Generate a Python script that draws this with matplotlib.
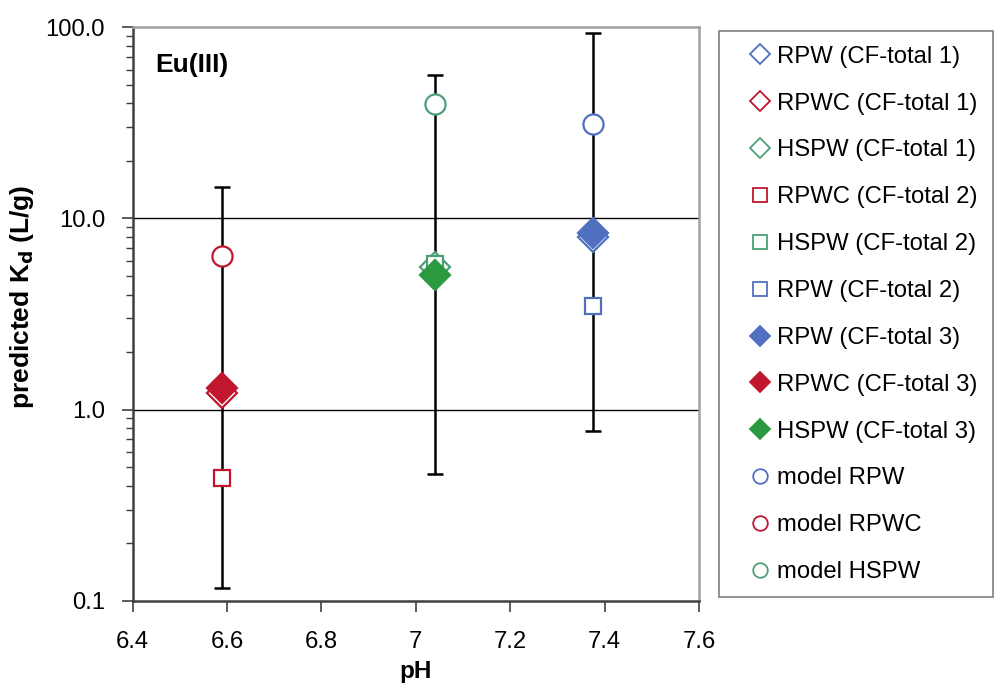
import numpy as np
import matplotlib
matplotlib.use("Agg")
import matplotlib.pyplot as plt
from matplotlib.lines import Line2D
from matplotlib.ticker import FixedLocator, LogLocator, NullFormatter

plt.rcParams['font.family'] = ['Liberation Sans', 'DejaVu Sans']

# ------------------------------------------------------------------
# Data
# ------------------------------------------------------------------
ph = [6.59, 7.04, 7.375]

# CF-total 1 (open diamonds)
rpw_cf1 = 7.96
rpwc_cf1 = 1.22
hspw_cf1 = 5.57

# CF-total 2 (open squares)
rpwc_cf2 = 0.44
hspw_cf2 = 5.77
rpw_cf2 = 3.48

# CF-total 3 (filled diamonds)
rpw_cf3 = 8.36
rpwc_cf3 = 1.30
hspw_cf3 = 5.06

# model values (open circles)
model_rpw = 31.2
model_rpwc = 6.36
model_hspw = 39.7

# error bar ranges, ordered as ph: RPWC, HSPW, RPW
err_low = [0.116, 0.46, 0.77]
err_high = [14.6, 56.2, 93.0]

blue = '#4F6FBF'
red = '#C0172F'
green_open = '#4E9F78'
green_fill = '#2A9940'

fig = plt.figure(figsize=(9.94, 6.84), dpi=100)
ax = fig.add_axes([0.1335, 0.1218, 0.5697, 0.8382])

# error bars
center = np.sqrt(np.array(err_low) * np.array(err_high))
yerr = [center - np.array(err_low), np.array(err_high) - center]
ax.errorbar(ph, center, yerr=yerr, fmt='none', ecolor='black',
            elinewidth=1.8, capsize=5.5, capthick=1.8, zorder=3)

d_size = 15
s_size = 11
c_size = 14.5
mew = 1.6

series = [
    # label, x, y, marker, color, filled, size
    ("RPW (CF-total 1)", ph[2], rpw_cf1, 'D', blue, False, d_size),
    ("RPWC (CF-total 1)", ph[0], rpwc_cf1, 'D', red, False, d_size),
    ("HSPW (CF-total 1)", ph[1], hspw_cf1, 'D', green_open, False, d_size),
    ("RPWC (CF-total 2)", ph[0], rpwc_cf2, 's', red, False, s_size),
    ("HSPW (CF-total 2)", ph[1], hspw_cf2, 's', green_open, False, s_size),
    ("RPW (CF-total 2)", ph[2], rpw_cf2, 's', blue, False, s_size),
    ("RPW (CF-total 3)", ph[2], rpw_cf3, 'D', blue, True, d_size),
    ("RPWC (CF-total 3)", ph[0], rpwc_cf3, 'D', red, True, d_size),
    ("HSPW (CF-total 3)", ph[1], hspw_cf3, 'D', green_fill, True, d_size),
    ("model RPW", ph[2], model_rpw, 'o', blue, False, c_size),
    ("model RPWC", ph[0], model_rpwc, 'o', red, False, c_size),
    ("model HSPW", ph[1], model_hspw, 'o', green_open, False, c_size),
]

handles = []
for i, (label, x, y, m, col, filled, ms) in enumerate(series):
    face = col if filled else 'white'
    ax.plot([x], [y], linestyle='none', marker=m, markersize=ms,
            markerfacecolor=face, markeredgecolor=col, markeredgewidth=mew,
            zorder=4 + i)
    handles.append(Line2D([], [], linestyle='none', marker=m, markersize=10.5,
                          markerfacecolor=face, markeredgecolor=col,
                          markeredgewidth=1.3, label=label))

ax.set_yscale('log')
ax.set_ylim(0.1, 100)
ax.set_xlim(6.4, 7.6)
ax.set_xticks([6.4, 6.6, 6.8, 7.0, 7.2, 7.4, 7.6])
ax.set_xticklabels(['6.4', '6.6', '6.8', '7', '7.2', '7.4', '7.6'])
ax.yaxis.set_major_locator(FixedLocator([0.1, 1, 10, 100]))
ax.set_yticklabels(['0.1', '1.0', '10.0', '100.0'])
ax.yaxis.set_minor_locator(LogLocator(base=10, subs=np.arange(2, 10)))
ax.yaxis.set_minor_formatter(NullFormatter())

ax.tick_params(axis='both', which='major', direction='out', length=8,
               width=1.2, labelsize=17.2, color='#404040')
ax.tick_params(axis='x', which='major', pad=14)
ax.tick_params(axis='y', which='major', pad=12)
ax.tick_params(axis='y', which='minor', direction='out', length=5,
               width=1.0, color='#404040')

for y in [1, 10]:
    ax.axhline(y, color='black', linewidth=1.0, zorder=1)

ax.spines['left'].set_color('#404040')
ax.spines['bottom'].set_color('#404040')
ax.spines['top'].set_color('#a0a0a0')
ax.spines['right'].set_color('#a0a0a0')
for side in ['left', 'bottom', 'top', 'right']:
    ax.spines[side].set_linewidth(1.8)

ax.set_xlabel('pH', fontsize=17.5, fontweight='bold', labelpad=5)
ax.set_ylabel(r'predicted K$_\mathbf{d}$ (L/g)', fontsize=19, fontweight='bold')
ax.yaxis.set_label_coords(-0.170, 0.53)

ax.text(0.039, 0.935, 'Eu(III)', transform=ax.transAxes, fontsize=19,
        fontweight='bold', ha='left', va='center')

leg = fig.legend(handles=handles, loc='upper left',
                 bbox_to_anchor=(0.7233, 0.954, 0.2757, 0.0),
                 mode='expand', fontsize=17.2, frameon=True, fancybox=False,
                 labelspacing=1.04, handlelength=2.27, handletextpad=-0.46,
                 borderpad=0.6, borderaxespad=0.0, numpoints=1)
leg.get_frame().set_edgecolor('#606060')
leg.get_frame().set_linewidth(1.2)
leg._legend_box.align = 'left'

fig.savefig('out.png', dpi=100)
